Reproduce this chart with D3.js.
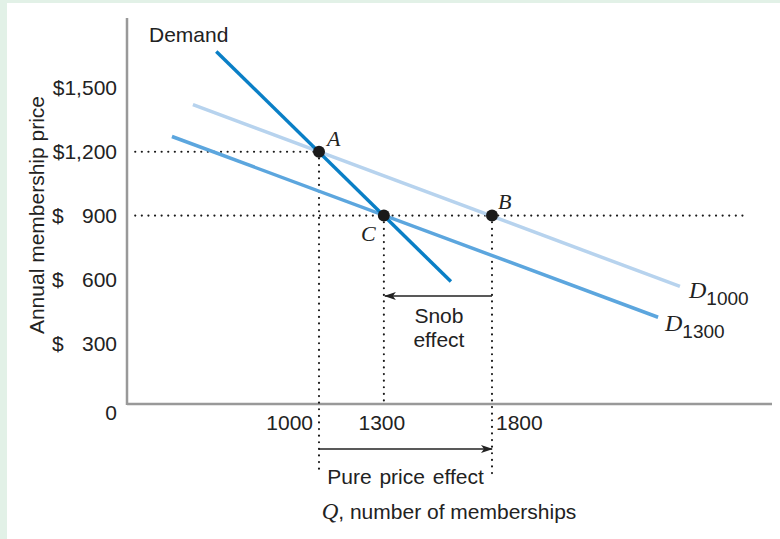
<!DOCTYPE html>
<html>
<head>
<meta charset="utf-8">
<script src="https://cdn.jsdelivr.net/npm/d3@7"></script>
<style>
  body { margin: 0; background: #fff; }
  svg text { font-family: "Liberation Sans", Arial, sans-serif; fill: #222; }
  .serif { font-family: "Liberation Serif", "Times New Roman", serif; font-style: italic; }
</style>
</head>
<body>
<div id="chart"></div>
<script>
// ---- data (q = memberships, p = annual price) ----
const demandLine = [{q: 525, p: 1672}, {q: 1610, p: 590}];
const d1000Line  = [{q: 417, p: 1422}, {q: 2669, p: 567}];
const d1300Line  = [{q: 320, p: 1272}, {q: 2568, p: 422}];
const points = [
  {name: "A", q: 1000, p: 1200},
  {name: "B", q: 1800, p: 900},
  {name: "C", q: 1300, p: 900}
];
const yTicks = [300, 600, 900, 1200, 1500];
const yTickLabels = ["300", "600", "900", "1,200", "1,500"];
const xTicks = [1000, 1300, 1800];
const xTickLabels = ["1000", "1300", "1800"];
const priceGuides = [{p: 1200, q0: 150, q1: 1000}, {p: 900, q0: 150, q1: 2965}];
const snobArrow = {from: 1800, to: 1300, p: 522};
const pureArrow = {from: 1000, to: 1800};

const W = 780, H = 539;
const FS = 21;
const svg = d3.select("#chart").append("svg").attr("width", W).attr("height", H);

// frame
svg.append("rect").attr("width", W).attr("height", H).attr("fill", "#e2f1e7");
svg.append("rect").attr("x", 7).attr("y", 3).attr("width", W - 7).attr("height", H - 3).attr("fill", "#fff");

const x = d3.scaleLinear().domain([1000, 1800]).range([319, 492]);
const y = d3.scaleLinear().domain([0, 1500]).range([407, 88]);

const axisX = 127, axisY = 404;

const defs = svg.append("defs");
defs.append("marker").attr("id", "arr")
  .attr("viewBox", "0 0 12 8").attr("refX", 11).attr("refY", 4)
  .attr("markerWidth", 12).attr("markerHeight", 8)
  .attr("markerUnits", "userSpaceOnUse").attr("orient", "auto")
  .append("path").attr("d", "M0,0 L12,4 L0,8 L3,4 Z").attr("fill", "#222");

// axes
svg.append("line").attr("x1", axisX).attr("x2", axisX).attr("y1", 18).attr("y2", axisY + 1)
  .attr("stroke", "#999").attr("stroke-width", 2.5);
svg.append("line").attr("x1", axisX).attr("x2", 772).attr("y1", axisY).attr("y2", axisY)
  .attr("stroke", "#999").attr("stroke-width", 2.5);

const dotted = g => g.attr("stroke", "#1a1a1a").attr("stroke-width", 2.1)
  .attr("stroke-dasharray", "0.1,6.5").attr("stroke-linecap", "round");

// dotted guides
svg.selectAll(".hguide").data(priceGuides).enter().append("line")
  .attr("x1", d => x(d.q0)).attr("x2", d => x(d.q1))
  .attr("y1", d => y(d.p)).attr("y2", d => y(d.p))
  .call(dotted);
const vBottoms = {A: axisY + 69, B: axisY + 73, C: axisY};
svg.selectAll(".vguide").data(points).enter().append("line")
  .attr("x1", d => x(d.q)).attr("x2", d => x(d.q))
  .attr("y1", d => y(d.p)).attr("y2", d => vBottoms[d.name])
  .call(dotted);

// curves
const line = d3.line().x(d => x(d.q)).y(d => y(d.p));
svg.append("path").attr("d", line(d1000Line)).attr("stroke", "#b7d3ee").attr("stroke-width", 3.5).attr("fill", "none");
svg.append("path").attr("d", line(d1300Line)).attr("stroke", "#5ca6de").attr("stroke-width", 3.5).attr("fill", "none");
svg.append("path").attr("d", line(demandLine)).attr("stroke", "#0a7fc6").attr("stroke-width", 3.5).attr("fill", "none");

// points
svg.selectAll(".pt").data(points).enter().append("circle")
  .attr("cx", d => x(d.q)).attr("cy", d => y(d.p)).attr("r", 6).attr("fill", "#1a1a1a");
const ptOffsets = {A: [8, -6], B: [6, -7], C: [-23, 25]};
svg.selectAll(".ptlab").data(points).enter().append("text")
  .attr("class", "serif").attr("font-size", 22)
  .attr("x", d => x(d.q) + ptOffsets[d.name][0]).attr("y", d => y(d.p) + ptOffsets[d.name][1])
  .text(d => d.name);

// curve labels
function dLabel(px, py, sub) {
  const t = svg.append("text").attr("x", px).attr("y", py);
  t.append("tspan").attr("class", "serif").attr("font-size", 24).text("D");
  t.append("tspan").attr("font-size", 19).attr("dy", 7).text(sub);
}
dLabel(689, 298, "1000");
dLabel(665, 331, "1300");

svg.append("text").attr("x", 149).attr("y", 42).attr("font-size", FS).text("Demand");

// y ticks: "$" set apart for short values, full label otherwise
svg.selectAll(".ydollar").data(yTicks.filter((d, i) => yTickLabels[i].length < 4)).enter().append("text")
  .attr("x", 52).attr("y", d => y(d)).attr("dy", "0.35em").attr("font-size", FS).text("$");
svg.selectAll(".ytick").data(yTicks).enter().append("text")
  .attr("x", 117).attr("y", d => y(d)).attr("dy", "0.35em").attr("font-size", FS)
  .attr("text-anchor", "end")
  .text((d, i) => yTickLabels[i].length < 4 ? yTickLabels[i] : "$" + yTickLabels[i]);
svg.append("text").attr("x", 117).attr("y", 413).attr("dy", "0.35em").attr("font-size", FS)
  .attr("text-anchor", "end").text("0");

// x ticks
const xAnchor = ["end", "middle", "start"], xShift = [-6, -2, 4];
svg.selectAll(".xtick").data(xTicks).enter().append("text")
  .attr("x", (d, i) => x(d) + xShift[i]).attr("y", 423).attr("dy", "0.35em")
  .attr("font-size", FS).attr("text-anchor", (d, i) => xAnchor[i])
  .text((d, i) => xTickLabels[i]);

// axis titles
svg.append("text").attr("transform", "translate(37,215) rotate(-90)")
  .attr("text-anchor", "middle").attr("dy", "0.35em").attr("font-size", FS).text("Annual membership price");
const qt = svg.append("text").attr("x", 449).attr("y", 512).attr("dy", "0.35em")
  .attr("text-anchor", "middle").attr("font-size", FS);
qt.append("tspan").attr("class", "serif").attr("font-size", 23).text("Q");
qt.append("tspan").text(", number of memberships");

// snob effect arrow
svg.append("line").attr("x1", x(snobArrow.from)).attr("x2", x(snobArrow.to) + 1)
  .attr("y1", y(snobArrow.p)).attr("y2", y(snobArrow.p))
  .attr("stroke", "#222").attr("stroke-width", 1.3).attr("marker-end", "url(#arr)");
const sx = (x(snobArrow.from) + x(snobArrow.to)) / 2 + 1;
svg.append("text").attr("x", sx).attr("y", y(snobArrow.p) + 20).attr("dy", "0.35em")
  .attr("text-anchor", "middle").attr("font-size", FS).text("Snob");
svg.append("text").attr("x", sx).attr("y", y(snobArrow.p) + 44).attr("dy", "0.35em")
  .attr("text-anchor", "middle").attr("font-size", FS).text("effect");

// pure price effect arrow
svg.append("line").attr("x1", x(pureArrow.from)).attr("x2", x(pureArrow.to))
  .attr("y1", axisY + 45).attr("y2", axisY + 45)
  .attr("stroke", "#222").attr("stroke-width", 1.3).attr("marker-end", "url(#arr)");
svg.append("text").attr("x", (x(pureArrow.from) + x(pureArrow.to)) / 2)
  .attr("y", axisY + 73).attr("dy", "0.35em").attr("text-anchor", "middle")
  .attr("font-size", FS).attr("word-spacing", 2).text("Pure price effect");
</script>
</body>
</html>
